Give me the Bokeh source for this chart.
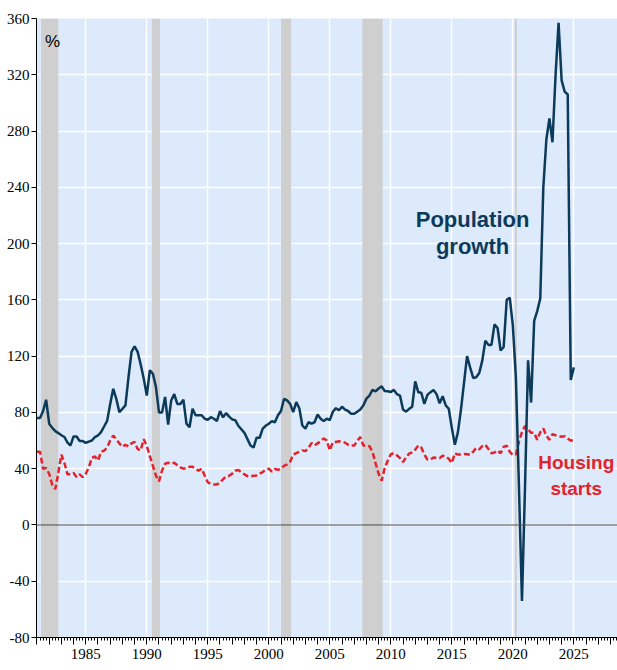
import numpy as np
from bokeh.plotting import figure
from bokeh.models import FixedTicker, Range1d, Label, Span, CustomJSTickFormatter
from bokeh.embed import file_html
from bokeh.resources import INLINE

# ---- data (quarterly, starting 1981 Q1) ----
start_year = 1981
pop_growth = [
    76, 76, 81, 89, 72, 69, 66.7, 65.3, 63.8, 62.5,
    58.5, 56.5, 62.9, 62.9, 59.6, 59.6, 58.4, 59.2, 60, 62.5,
    63.6, 66, 70, 74, 86, 96.8, 89.7, 80.2, 82.5, 85,
    105, 123, 127, 123, 114, 104, 92, 110, 107.5, 98,
    80, 80, 91, 71.4, 88.5, 93, 86, 86, 89, 72,
    69.5, 82.6, 78, 78, 78, 75.5, 74.8, 76.6, 75.5, 74,
    81, 76.5, 79.5, 77, 75, 74.5, 70.5, 68, 65.5, 61,
    56.5, 55, 62, 62, 68.5, 70.5, 72, 73.8, 73, 78,
    81, 89.7, 88.5, 86.1, 80.2, 87.3, 83, 70.7, 68.4, 73,
    72, 73, 78.5, 75.5, 73.8, 75.5, 74.5, 80.5, 83, 81.5,
    84, 82, 81, 79, 79, 80.5, 82, 85, 89.8, 92,
    96, 95, 97, 98.5, 95.2, 95, 94.5, 96, 93, 92,
    82, 80.5, 82.5, 84, 102, 94.4, 94, 86, 92.5, 94.4,
    96, 93, 86.5, 91.5, 85, 82.6, 69, 57, 66, 82,
    101, 120, 112, 104.5, 105, 108, 117, 131, 128, 128,
    142.6, 140, 124, 126.5, 160, 161.5, 142, 105, 28, -54,
    27, 117, 87, 145, 152, 161, 240, 274, 289, 272,
    319, 357, 316, 308, 306, 103, 112,
]
housing_starts = [
    52, 52, 40, 40.5, 36.4, 28.5, 25.5, 37, 50, 44,
    36, 36, 37, 34, 36, 34, 36.4, 41, 47.7, 48.7,
    45.8, 52, 52.9, 55, 60, 63.5, 61, 58, 55.5, 57,
    55.8, 58, 59, 54, 53, 61, 56, 49, 42, 35,
    31, 38.7, 43.5, 44.2, 43.5, 44.2, 42.5, 41, 40, 40.5,
    41.3, 41.3, 40, 38.5, 40, 35, 30.4, 29, 28.8, 28.8,
    30, 32.5, 34.5, 35, 36.5, 38.5, 39, 37.5, 36, 34.7,
    34.5, 35, 35.2, 36.5, 37.5, 39.5, 40, 38, 39.8, 39.2,
    40, 42, 43, 45, 50, 51, 52, 53, 52.5, 54.7,
    58.2, 56.5, 58, 59.5, 61.5, 60, 53, 58.9, 59, 59.5,
    59.2, 58.5, 57, 56.4, 56.4, 59.8, 62.5, 56.4, 56.4, 56,
    52, 44, 36.4, 31.5, 40.5, 45.8, 50.3, 51, 49.5, 47.6,
    44.7, 48, 50.7, 51.6, 53.5, 56.5, 55, 50, 46.5, 46.5,
    48, 47.5, 47.5, 49.2, 48.6, 47, 44, 51, 50, 50.1,
    50.4, 50.3, 49.8, 52, 54.8, 53.8, 56, 57, 54, 51,
    51.5, 53, 51, 55.5, 56.3, 52, 49.8, 50, 59, 66,
    70.3, 68, 65.5, 65.5, 60.5, 66, 68.5, 63.5, 60.5, 64.5,
    63.8, 63.2, 62.7, 63, 61.5, 59.9, 60.5,
]
rec_start = [1981.33, 1990.42, 2001.0, 2007.67, 2020.17]
rec_end = [1982.75, 1991.08, 2001.83, 2009.33, 2020.33]
y_ticks = [-80, -40, 0, 40, 80, 120, 160, 200, 240, 280, 320, 360]
x_label_years = [1985, 1990, 1995, 2000, 2005, 2010, 2015, 2020, 2025]

x = start_year + np.arange(len(pop_growth)) * 0.25

NAVY = "#0B3A5A"
RED = "#E4222B"
BG = "#DDEAFB"
REC = "#CFCFCF"
NARROW = "Liberation Sans Narrow"

p = figure(width=617, height=670,
           x_range=Range1d(1980.96, 2028.58), y_range=Range1d(-80, 360),
           output_backend="svg", toolbar_location=None,
           min_border_left=36, min_border_right=0, min_border_top=18,
           min_border_bottom=33,
           background_fill_color=BG, border_fill_color="white",
           outline_line_color=None)

# recession shading
p.quad(left=rec_start, right=rec_end, bottom=y_ticks[0], top=y_ticks[-1],
       fill_color=REC, line_color=None)

# grids
p.xgrid.ticker = FixedTicker(ticks=x_label_years)
p.ygrid.ticker = FixedTicker(ticks=y_ticks)
p.xgrid.grid_line_color = "white"
p.ygrid.grid_line_color = "white"
p.xgrid.grid_line_width = 1.5
p.ygrid.grid_line_width = 1.5

p.add_layout(Span(location=0, dimension="width", line_color="#4a4a4a",
                  line_width=1))

p.line(x, housing_starts, line_color=RED, line_width=2.5, line_dash="6 3")
p.line(x, pop_growth, line_color=NAVY, line_width=2.5)

# axes
years = list(range(1981, 2029))
quarters = [y + q * 0.25 for y in range(1980, 2029) for q in range(4)]
p.xaxis.ticker = FixedTicker(ticks=years, minor_ticks=quarters)
p.xaxis.formatter = CustomJSTickFormatter(
    code="return (Math.round(tick) % 5 == 0) ? Math.round(tick).toString() : '';")
p.xaxis.major_tick_out = 7
p.xaxis.major_tick_in = 0
p.xaxis.minor_tick_out = 3
p.xaxis.minor_tick_in = 0
p.xaxis.axis_line_color = "black"
p.xaxis.major_tick_line_color = "black"
p.xaxis.minor_tick_line_color = "black"
p.xaxis.major_label_text_font = NARROW
p.xaxis.major_label_text_font_size = "15px"
p.xaxis.major_label_text_color = "black"
p.xaxis.major_label_standoff = 4

p.yaxis.ticker = FixedTicker(ticks=y_ticks)
p.yaxis.formatter = CustomJSTickFormatter(code="return Math.round(tick).toString();")
p.yaxis.major_tick_out = 5
p.yaxis.major_tick_in = 0
p.yaxis.minor_tick_out = 0
p.yaxis.minor_tick_in = 0
p.yaxis.axis_line_color = "black"
p.yaxis.major_tick_line_color = "black"
p.yaxis.major_label_text_font = NARROW
p.yaxis.major_label_text_font_size = "15px"
p.yaxis.major_label_text_color = "black"
p.yaxis.major_label_standoff = 2

# annotations
p.add_layout(Label(x=1982.27, y=343.5, text="%", text_font="Liberation Sans",
                   text_font_size="17px", text_color="black",
                   text_align="center", text_baseline="middle"))
for txt, yy in [("Population", 217), ("growth", 198)]:
    p.add_layout(Label(x=2016.7, y=yy, text=txt, text_font="Liberation Sans",
                       text_font_style="bold", text_font_size="22px",
                       text_color=NAVY, text_align="center",
                       text_baseline="middle"))
for txt, yy in [("Housing", 44.4), ("starts", 26)]:
    p.add_layout(Label(x=2025.2, y=yy, text=txt, text_font="Liberation Sans",
                       text_font_style="bold", text_font_size="19px",
                       text_color=RED, text_align="center",
                       text_baseline="middle"))

open("out.html", "w").write(file_html(p, INLINE))
